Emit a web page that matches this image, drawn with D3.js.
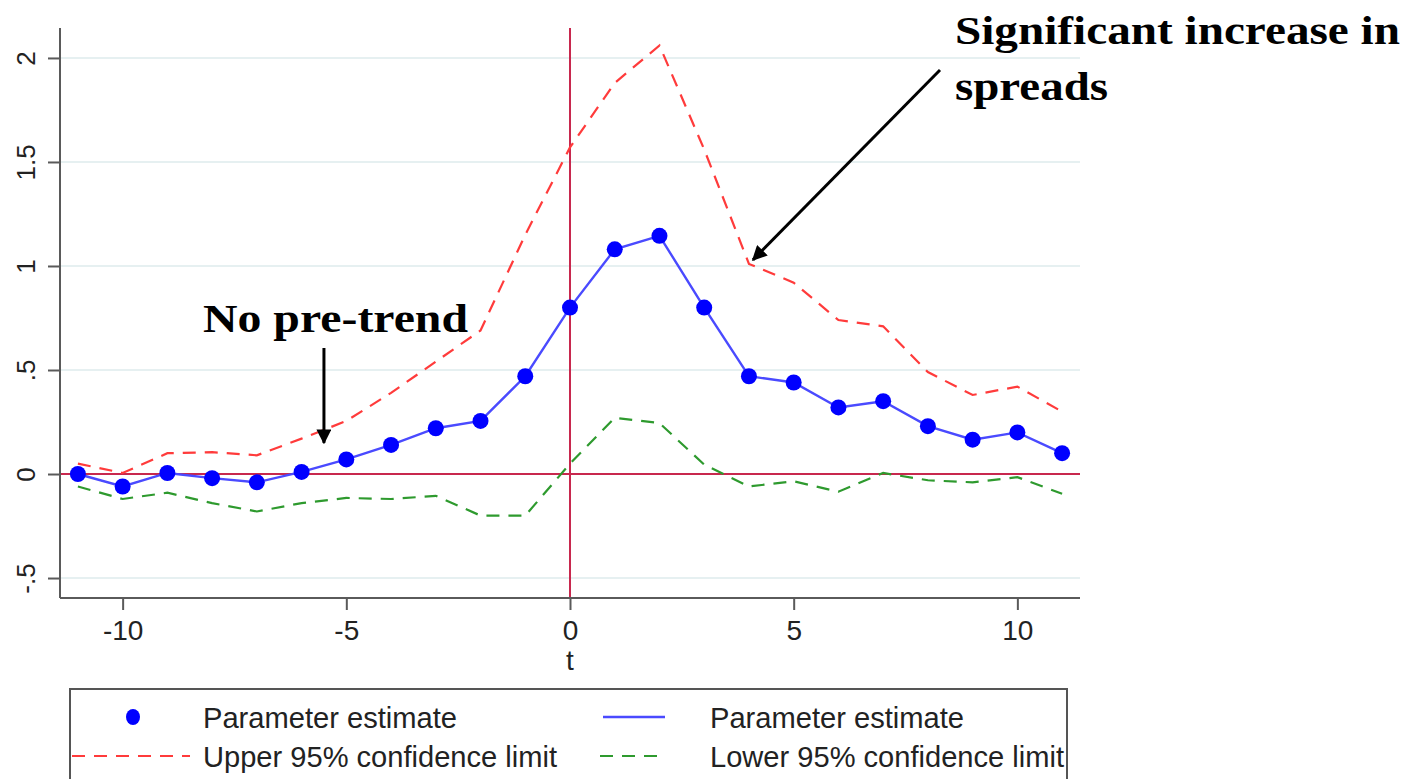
<!DOCTYPE html>
<html>
<head>
<meta charset="utf-8">
<script src="https://cdn.jsdelivr.net/npm/d3@7"></script>
<style>
  html, body { margin: 0; padding: 0; background: #fff; }
  svg { display: block; }
</style>
</head>
<body>
<svg id="chart" width="1419" height="779"></svg>
<script>
// ---------- data ----------
const periods = [-11,-10,-9,-8,-7,-6,-5,-4,-3,-2,-1,0,1,2,3,4,5,6,7,8,9,10,11];
const estimate = [0.00,-0.06,0.005,-0.02,-0.04,0.01,0.07,0.14,0.22,0.255,0.47,0.80,1.08,1.145,0.80,0.47,0.44,0.32,0.35,0.23,0.165,0.20,0.10];
const upperCI = [0.05,0.005,0.10,0.105,0.09,0.17,0.255,0.39,0.54,0.69,1.15,1.57,1.88,2.06,1.56,1.01,0.92,0.74,0.71,0.49,0.38,0.42,0.30];
const lowerCI = [-0.06,-0.12,-0.09,-0.14,-0.18,-0.14,-0.115,-0.12,-0.105,-0.20,-0.20,0.05,0.27,0.245,0.045,-0.06,-0.035,-0.085,0.005,-0.03,-0.04,-0.015,-0.095];
const xTicks = [-10,-5,0,5,10];
const xTickLabels = ["-10","-5","0","5","10"];
const yTicks = [-0.5,0,0.5,1,1.5,2];
const yTickLabels = ["-.5","0",".5","1","1.5","2"];
const legendLabels = ["Parameter estimate","Parameter estimate","Upper 95% confidence limit","Lower 95% confidence limit"];
const annotations = [
  {lines:["No pre-trend"], t:-5.5, v:0.14},
  {lines:["Significant increase in","spreads"], t:4, v:1.02}
];

// ---------- layout ----------
const svg = d3.select("#chart");
const x = d3.scaleLinear().domain([-11.4, 11.4]).range([60, 1080]);
const y = d3.scaleLinear().domain([-0.596, 2.144]).range([598, 28]);
const axisColor = "#5a5a5a";
const sans = "'Liberation Sans', Arial, sans-serif";
const serif = "'Liberation Serif', 'Times New Roman', serif";

// gridlines
svg.append("g").selectAll("line").data(yTicks).join("line")
  .attr("x1", 60).attr("x2", 1080)
  .attr("y1", d => y(d)).attr("y2", d => y(d))
  .attr("stroke", "#e6f0f1").attr("stroke-width", 2);

// reference lines at 0
svg.append("line").attr("x1", 60).attr("x2", 1080).attr("y1", y(0)).attr("y2", y(0))
  .attr("stroke", "#c8284e").attr("stroke-width", 2);
svg.append("line").attr("x1", x(0)).attr("x2", x(0)).attr("y1", 28).attr("y2", 598)
  .attr("stroke", "#c8284e").attr("stroke-width", 2);

// axes
const yAxis = d3.axisLeft(y).tickValues(yTicks).tickSize(12).tickPadding(10)
  .tickFormat((d,i) => yTickLabels[i]);
const gy = svg.append("g").attr("transform", "translate(60,0)").call(yAxis);
gy.select(".domain").attr("stroke", axisColor).attr("stroke-width", 2).attr("d", "M0,28V598");
gy.selectAll(".tick line").attr("stroke", axisColor).attr("stroke-width", 2);
gy.selectAll(".tick text")
  .attr("font-family", sans).attr("font-size", 26).attr("fill", "#222")
  .attr("text-anchor", "middle")
  .attr("x", 0).attr("dy", 0)
  .attr("transform", "translate(-25,0) rotate(-90)")
  .attr("y", 0);

const xAxis = d3.axisBottom(x).tickValues(xTicks).tickSize(12).tickPadding(10)
  .tickFormat((d,i) => xTickLabels[i]);
const gx = svg.append("g").attr("transform", "translate(0,598)").call(xAxis);
gx.select(".domain").attr("stroke", axisColor).attr("stroke-width", 2).attr("d", "M60,0H1080");
gx.selectAll(".tick line").attr("stroke", axisColor).attr("stroke-width", 2);
gx.selectAll(".tick text").attr("font-family", sans).attr("font-size", 28).attr("fill", "#222");

svg.append("text").attr("x", x(0)).attr("y", 670).attr("text-anchor", "middle")
  .attr("font-family", sans).attr("font-size", 28).attr("fill", "#222").text("t");

// lines
const line = d3.line().x(d => x(d[0])).y(d => y(d[1]));
svg.append("path").datum(periods.map((t,i) => [t, upperCI[i]]))
  .attr("d", line).attr("fill", "none").attr("stroke", "#ff3b3b")
  .attr("stroke-width", 2.2).attr("stroke-dasharray", "13,9");
svg.append("path").datum(periods.map((t,i) => [t, lowerCI[i]]))
  .attr("d", line).attr("fill", "none").attr("stroke", "#2e9a2e")
  .attr("stroke-width", 2.2).attr("stroke-dasharray", "13,9");
svg.append("path").datum(periods.map((t,i) => [t, estimate[i]]))
  .attr("d", line).attr("fill", "none").attr("stroke", "#4a4aff").attr("stroke-width", 2.4);
svg.append("g").selectAll("circle").data(periods.map((t,i) => [t, estimate[i]])).join("circle")
  .attr("cx", d => x(d[0])).attr("cy", d => y(d[1])).attr("r", 8).attr("fill", "#0000ff");

// legend
const lg = svg.append("g");
lg.append("rect").attr("x", 70).attr("y", 689).attr("width", 997).attr("height", 100)
  .attr("fill", "#fff").attr("stroke", "#555").attr("stroke-width", 2);
const row1 = 717, row2 = 756;
lg.append("ellipse").attr("cx", 133).attr("cy", row1).attr("rx", 7).attr("ry", 8).attr("fill", "#0000ff");
lg.append("line").attr("x1", 603).attr("x2", 665).attr("y1", row1).attr("y2", row1)
  .attr("stroke", "#4a4aff").attr("stroke-width", 2.4);
lg.append("line").attr("x1", 72).attr("x2", 190).attr("y1", row2).attr("y2", row2)
  .attr("stroke", "#ff3b3b").attr("stroke-width", 2.2).attr("stroke-dasharray", "13,9");
lg.append("line").attr("x1", 600).attr("x2", 665).attr("y1", row2).attr("y2", row2)
  .attr("stroke", "#2e9a2e").attr("stroke-width", 2.2).attr("stroke-dasharray", "13,9");
const legPos = [[203,row1],[710,row1],[203,row2],[710,row2]];
const legLen = [254,254,354,354];
lg.selectAll("text.leg").data(legendLabels).join("text").attr("class","leg")
  .attr("x", (d,i) => legPos[i][0]).attr("y", (d,i) => legPos[i][1] + 11)
  .attr("font-family", sans).attr("font-size", 29).attr("fill", "#222")
  .attr("textLength", (d,i) => legLen[i]).attr("lengthAdjust", "spacingAndGlyphs")
  .text(d => d);

// annotations
const defs = svg.append("defs");
defs.append("marker").attr("id", "arrow").attr("viewBox", "0 0 10 10")
  .attr("refX", 9).attr("refY", 5).attr("markerWidth", 5).attr("markerHeight", 5)
  .attr("orient", "auto")
  .append("path").attr("d", "M0,0L10,5L0,10z").attr("fill", "#000");

const a0 = annotations[0];
svg.append("text").attr("x", 203).attr("y", 332)
  .attr("font-family", serif).attr("font-weight", "bold").attr("font-size", 40).attr("fill", "#000")
  .attr("textLength", 265).attr("lengthAdjust", "spacingAndGlyphs")
  .text(a0.lines[0]);
svg.append("line").attr("x1", x(a0.t)).attr("x2", x(a0.t)).attr("y1", 348).attr("y2", y(a0.v) - 2)
  .attr("stroke", "#000").attr("stroke-width", 3).attr("marker-end", "url(#arrow)");

const a1 = annotations[1];
const a1Len = [445, 153];
svg.append("g").selectAll("text").data(a1.lines).join("text")
  .attr("x", 955).attr("y", (d,i) => 44 + i*56)
  .attr("font-family", serif).attr("font-weight", "bold").attr("font-size", 40).attr("fill", "#000")
  .attr("textLength", (d,i) => a1Len[i]).attr("lengthAdjust", "spacingAndGlyphs")
  .text(d => d);
svg.append("line").attr("x1", 940).attr("y1", 70).attr("x2", x(a1.t) + 4).attr("y2", y(a1.v) - 2)
  .attr("stroke", "#000").attr("stroke-width", 3).attr("marker-end", "url(#arrow)");
</script>
</body>
</html>
